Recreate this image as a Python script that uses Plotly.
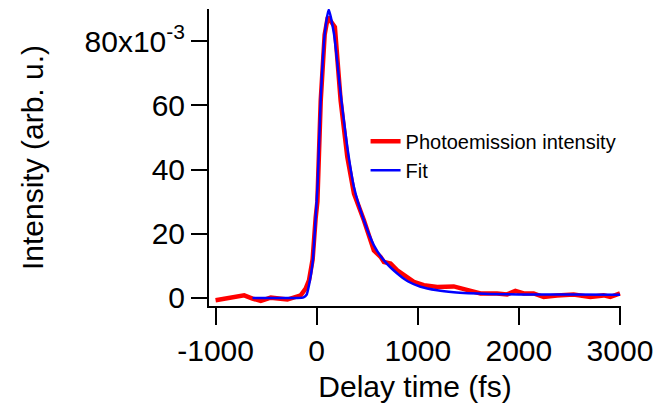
import plotly.graph_objects as go

# Delay time (fs) and intensity (units of 1e-3, arb. u.)
delay_data = [-1000, -900, -800, -717, -635, -553, -454, -380, -290, -158, -109, -76, -40, -10, 7, 40, 79, 110,
              155, 180, 237, 303, 369, 467, 566, 632, 665, 731, 797, 862, 961, 1060, 1192, 1356, 1487, 1620,
              1784, 1883, 1965, 2048, 2146, 2245, 2377, 2541, 2706, 2838, 2904, 3000]
intensity_data = [-0.7, -0.2, 0.3, 0.8, -0.2, -0.9, 0.1, -0.1, -0.5, 0.8, 2.9, 5.5, 12, 25, 30, 61.5, 82, 87.5,
                  85.4, 84.4, 61.5, 43.9, 32.5, 24.2, 14.8, 12.8, 11.2, 10.7, 8.6, 7.1, 5.0, 4.0, 3.4, 3.6, 2.6, 1.4,
                  1.4, 1.1, 2.2, 1.4, 1.4, 0.3, 0.8, 1.1, 0.3, 0.8, 0.3, 1.4]

delay_fit = [-635, -400, -200, -130, -100, -76, -40, -10, 10, 40, 79, 119, 171, 237, 303, 369, 467, 566,
             665, 797, 900, 1027, 1192, 1356, 1500, 1700, 2000, 2500, 3000]
intensity_fit = [0, 0, 0, 0.2, 1.0, 4, 11, 25, 36, 62, 82, 89.8, 82.3, 63.6, 47, 34.5, 24.2, 16.4,
                 11.7, 7.6, 5.2, 3.5, 2.4, 1.8, 1.5, 1.25, 1.1, 1.05, 1.0]

x_ticks = [-1000, 0, 1000, 2000, 3000]
x_ticktext = ["-1000", "0", "1000", "2000", "3000"]
y_ticks = [0, 20, 40, 60, 80]
y_ticktext = ["0", "20", "40", "60", "80x10<sup>-3</sup>"]

FONT = "Liberation Sans, Arial, sans-serif"

fig = go.Figure()
fig.add_trace(go.Scatter(x=delay_data, y=intensity_data, mode="lines", name="Photoemission intensity",
                         line=dict(color="#FF0000", width=4.5)))
fig.add_trace(go.Scatter(x=delay_fit, y=intensity_fit, mode="lines", name="Fit",
                         line=dict(color="#0000FF", width=2.5, shape="spline", smoothing=0.6)))

fig.update_layout(
    width=657, height=410,
    margin=dict(l=209, r=36, t=9, b=104, autoexpand=False),
    paper_bgcolor="white", plot_bgcolor="white",
    font=dict(family=FONT, color="black", size=30),
    showlegend=True,
    legend=dict(x=0.38, y=0.62, xanchor="left", yanchor="top", bgcolor="rgba(0,0,0,0)",
                font=dict(size=20, family=FONT), tracegroupgap=0, itemwidth=30),
    xaxis=dict(range=[-1065, 3010], tickvals=x_ticks, ticktext=x_ticktext, ticks="outside", ticklen=17,
               tickwidth=2, automargin=False,
               tickcolor="black", showline=True, linecolor="black", linewidth=2, showgrid=False,
               zeroline=False, title=dict(text="Delay time (fs)", font=dict(size=30), standoff=10)),
    yaxis=dict(range=[-2.5, 90], tickvals=y_ticks, ticktext=y_ticktext, ticks="outside", ticklen=16,
               tickwidth=2, tickcolor="black", showline=True, linecolor="black", linewidth=2,
               showgrid=False, zeroline=False, automargin=False,
               title=dict(text="Intensity (arb. u.)", font=dict(size=30), standoff=32)),
)

fig.write_html("out.html", config={"displayModeBar": False},
               post_script="document.body.style.margin='0';document.body.style.overflow='hidden';")
